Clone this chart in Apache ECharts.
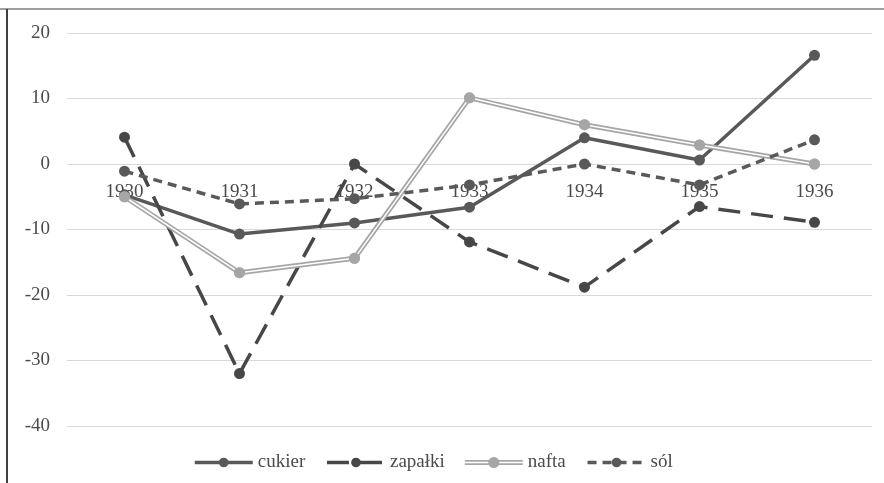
<!DOCTYPE html>
<html>
<head>
<meta charset="utf-8">
<script src="https://cdn.jsdelivr.net/npm/echarts@6/dist/echarts.min.js"></script>
<style>
  html, body { margin: 0; padding: 0; background: #ffffff; }
  #chart { width: 884px; height: 483px; }
</style>
</head>
<body>
<div id="chart"></div>
<script>
// Years on the category axis
const years = ['1930', '1931', '1932', '1933', '1934', '1935', '1936'];

// Yearly change per product (%)
const cukier  = [-4.7, -10.7, -9.0, -6.6, 4.0, 0.6, 16.6];
const zapalki = [4.1, -32.0, 0.0, -11.9, -18.8, -6.5, -8.9];
const nafta   = [-5.0, -16.6, -14.4, 10.1, 6.0, 2.9, 0.0];
const sol     = [-1.1, -6.1, -5.3, -3.2, 0.0, -3.2, 3.7];

// Value axis range
const yMin = -40, yMax = 20, yStep = 10;

const serif = 'Liberation Serif';
const textGrey = '#4a4a4a';
const gridGrey = '#d9d9d9';

const chart = echarts.init(document.getElementById('chart'), null, { renderer: 'canvas' });

chart.setOption({
  backgroundColor: '#ffffff',
  animation: false,
  grid: { left: 67, right: 12, top: 33, bottom: 57, containLabel: false },
  xAxis: {
    type: 'category',
    data: years,
    boundaryGap: true,
    offset: 0,
    axisLine: { show: false, onZero: false },
    axisTick: { show: false },
    axisLabel: { color: textGrey, fontFamily: serif, fontSize: 19, margin: 19 },
    splitLine: { show: false }
  },
  yAxis: {
    type: 'value',
    min: yMin, max: yMax, interval: yStep,
    axisLine: { show: false },
    axisTick: { show: false },
    axisLabel: { color: textGrey, fontFamily: serif, fontSize: 19, margin: 17 },
    splitLine: { lineStyle: { color: gridGrey, width: 1 } }
  },
  legend: {
    data: [
      { name: 'cukier' },
      { name: 'zapałki' },
      { name: 'nafta', icon: 'path://M0,3.6H58V5.2H0Z M0,6.8H58V8.4H0Z M34.5,6A5.5,5.5,0,1,1,23.5,6A5.5,5.5,0,1,1,34.5,6Z' },
      { name: 'sól' }
    ],
    left: 188,
    top: 448,
    itemWidth: 58,
    itemHeight: 12,
    itemGap: 20,
    lineStyle: { width: 'inherit' },
    textStyle: { color: textGrey, fontFamily: serif, fontSize: 19 }
  },
  graphic: [
    { type: 'line', shape: { x1: 0, y1: 9, x2: 884, y2: 9 }, style: { stroke: '#7f7f7f', lineWidth: 1.5 }, silent: true },
    { type: 'line', shape: { x1: 7, y1: 9, x2: 7, y2: 483 }, style: { stroke: '#404040', lineWidth: 2 }, silent: true }
  ],
  series: [
    {
      name: 'cukier', type: 'line', data: cukier,
      symbol: 'circle', symbolSize: 11,
      color: '#595959',
      lineStyle: { width: 3.5, color: '#595959' },
      itemStyle: { color: '#595959' }
    },
    {
      name: 'zapałki', type: 'line', data: zapalki,
      symbol: 'circle', symbolSize: 11,
      color: '#474747',
      lineStyle: { width: 3.5, color: '#474747', type: [22, 11] },
      itemStyle: { color: '#474747' }
    },
    {
      name: 'nafta', type: 'line', data: nafta,
      symbol: 'circle', symbolSize: 11,
      color: '#a6a6a6',
      lineStyle: { width: 5, color: '#a6a6a6' },
      itemStyle: { color: '#a6a6a6' }
    },
    {
      // white core of the double line for nafta, markers redrawn on top
      name: 'nafta-core', type: 'line', data: nafta,
      symbol: 'circle', symbolSize: 11,
      lineStyle: { width: 1.5, color: '#ffffff' },
      itemStyle: { color: '#a6a6a6' },
      silent: true
    },
    {
      name: 'sól', type: 'line', data: sol,
      symbol: 'circle', symbolSize: 11,
      color: '#595959',
      lineStyle: { width: 3.5, color: '#595959', type: [9, 6] },
      itemStyle: { color: '#595959' }
    }
  ]
});

// Lift the category labels up to the zero line of the value axis
const zeroY = chart.convertToPixel({ yAxisIndex: 0 }, 0);
const baseY = chart.convertToPixel({ yAxisIndex: 0 }, yMin);
chart.setOption({ xAxis: { offset: -(baseY - zeroY) } });
</script>
</body>
</html>
